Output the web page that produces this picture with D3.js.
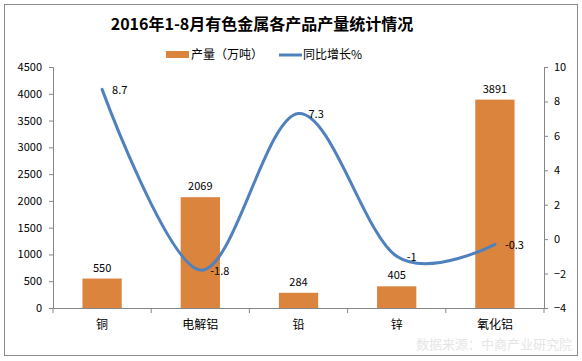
<!DOCTYPE html>
<html><head><meta charset="utf-8">
<script src="https://cdn.jsdelivr.net/npm/d3@7"></script>
<style>body{margin:0;background:#fff}svg{display:block}</style>
</head><body><svg id="c" width="582" height="361"></svg>
<script>
const categories = ["铜","电解铝","铅","锌","氧化铝"];
const output = [550, 2069, 284, 405, 3891];
const growth = [8.7, -1.8, 7.3, -1, -0.3];
const leftTicks = [0,500,1000,1500,2000,2500,3000,3500,4000,4500];
const rightTicks = [-4,-2,0,2,4,6,8,10];
const title = "2016年1-8月有色金属各产品产量统计情况";
const legendBar = "产量（万吨）";
const legendLine = "同比增长%";
const source = "数据来源：中商产业研究院";

const svg = d3.select("#c");
const font = "'Noto Sans CJK SC','DejaVu Sans',sans-serif";
svg.append("rect").attr("x",4.5).attr("y",4.5).attr("width",573).attr("height",351)
  .attr("fill","#fff").attr("stroke","#8c8c8c");

const L=53,R=544,T=67,B=308;
const x = d3.scaleBand().domain(categories).range([L,R]).paddingInner(0.6).paddingOuter(0.3);
const xb = d3.scaleBand().domain(categories).range([L,R]);
const yL = d3.scaleLinear().domain([0,4500]).range([B,T]);
const yR = d3.scaleLinear().domain([-4,10]).range([B,T]);

svg.append("text").attr("x",262).attr("y",30).attr("text-anchor","middle")
  .attr("font-family",font).attr("font-weight","bold").attr("font-size",16).attr("fill","#000").text(title);

// legend
const lg = svg.append("g").attr("font-family",font).attr("font-size",12).attr("fill","#000");
lg.append("rect").attr("x",166).attr("y",51).attr("width",23).attr("height",7).attr("fill","#DB843D");
lg.append("text").attr("x",191).attr("y",59).text(legendBar);
lg.append("line").attr("x1",279).attr("x2",302).attr("y1",55).attr("y2",55).attr("stroke","#4F81BD").attr("stroke-width",3);
lg.append("text").attr("x",303).attr("y",59).text(legendLine);

// axes
const axL = svg.append("g").attr("transform",`translate(${L},0)`)
  .call(d3.axisLeft(yL).tickValues(leftTicks).tickFormat(d3.format("d")).tickSize(4).tickPadding(7));
const axR = svg.append("g").attr("transform",`translate(${R},0)`)
  .call(d3.axisRight(yR).tickValues(rightTicks).tickFormat(d3.format("d")).tickSize(4).tickPadding(6));
const axB = svg.append("g").attr("transform",`translate(0,${B})`)
  .call(d3.axisBottom(xb).tickSize(0).tickPadding(12));
svg.append("g").selectAll("line").data(categories.concat(["_end"])).join("line")
  .attr("x1",(d,i)=>i<categories.length?xb(d):R).attr("x2",(d,i)=>i<categories.length?xb(d):R)
  .attr("y1",B).attr("y2",B+5).attr("stroke","#868686");
[axL,axR,axB].forEach(a=>{
  a.selectAll("path.domain").attr("stroke","#868686");
  a.selectAll(".tick line").attr("stroke","#868686");
  a.selectAll("text").attr("font-family",font).attr("font-size",11).attr("fill","#000");
});
axB.selectAll("text").attr("font-size",12);

// bars
svg.append("g").selectAll("rect").data(output).join("rect")
  .attr("x",(d,i)=>x(categories[i])).attr("width",x.bandwidth())
  .attr("y",d=>yL(d)).attr("height",d=>B-yL(d)).attr("fill","#DB843D");
svg.append("g").selectAll("text").data(output).join("text")
  .attr("x",(d,i)=>x(categories[i])+x.bandwidth()/2).attr("y",d=>yL(d)-7)
  .attr("text-anchor","middle").attr("font-family",font).attr("font-size",11).attr("fill","#000").text(d=>d);

// line
const cx = (i)=>xb(categories[i])+xb.bandwidth()/2;
const line = d3.line().x((d,i)=>cx(i)).y(d=>yR(d)).curve(d3.curveCardinal.tension(0));
svg.append("path").datum(growth).attr("d",line).attr("fill","none")
  .attr("stroke","#4F81BD").attr("stroke-width",3).attr("stroke-linecap","round");
svg.append("g").selectAll("text").data(growth).join("text")
  .attr("x",(d,i)=>cx(i)+10).attr("y",d=>yR(d)+5)
  .attr("font-family",font).attr("font-size",11).attr("fill","#000").text(d=>d);

svg.append("text").attr("x",572).attr("y",349).attr("text-anchor","end")
  .attr("font-family",font).attr("font-size",13).attr("fill","#e6e6e6").text(source);
</script></body></html>
